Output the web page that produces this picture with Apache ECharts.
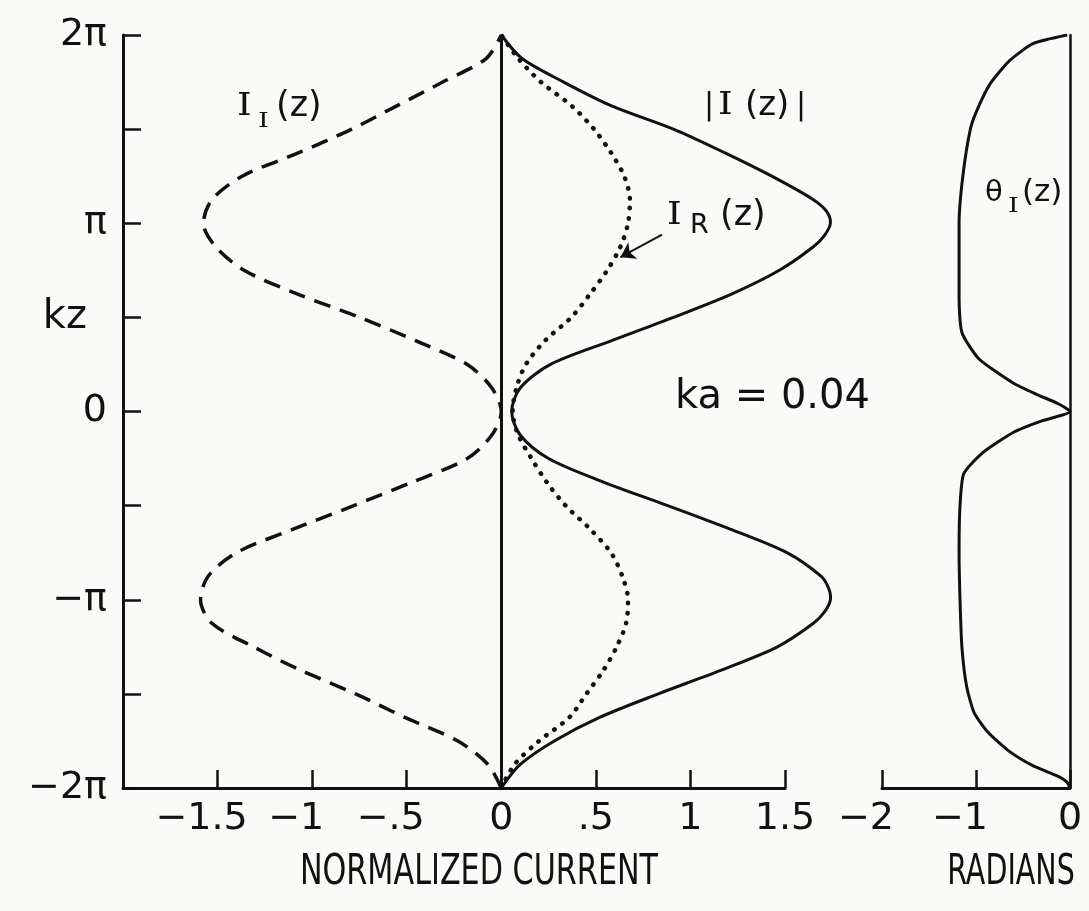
<!DOCTYPE html>
<html>
<head>
<meta charset="utf-8">
<title>Normalized current, ka = 0.04</title>
<script src="https://cdn.jsdelivr.net/npm/echarts@6/dist/echarts.min.js"></script>
<style>
  html, body { margin: 0; padding: 0; background: #fafaf8; }
  #chart { width: 1089px; height: 911px; }
</style>
</head>
<body>
<div id="chart"></div>
<script>
// kz, in units of pi
const kz = [-2, -1.875, -1.75, -1.625, -1.5, -1.375, -1.25, -1.125, -1, -0.875, -0.75, -0.625, -0.5, -0.375, -0.25, -0.125,
  0, 0.125, 0.25, 0.375, 0.5, 0.625, 0.75, 0.875, 1, 1.125, 1.25, 1.375, 1.5, 1.625, 1.75, 1.875, 2];

// I_I(z), dashed
const imagCurrent = [0, -0.07, -0.23, -0.51, -0.77, -1.06, -1.31, -1.53, -1.59, -1.55, -1.40, -1.10, -0.78, -0.47, -0.18, -0.05,
  0, -0.05, -0.18, -0.45, -0.75, -1.08, -1.36, -1.51, -1.575, -1.53, -1.37, -1.07, -0.79, -0.55, -0.31, -0.08, 0];

// |I(z)|, solid (read a little finer round the two peaks)
const magKz = [-2, -1.875, -1.75, -1.625, -1.5, -1.375, -1.25, -1.125, -1.0625, -1, -0.9375, -0.875, -0.75, -0.625, -0.5, -0.375, -0.25, -0.125,
  0, 0.125, 0.25, 0.375, 0.5, 0.625, 0.75, 0.875, 0.9375, 1, 1.0625, 1.125, 1.25, 1.375, 1.5, 1.625, 1.75, 1.875, 2];
const magCurrent = [0, 0.10, 0.28, 0.52, 0.83, 1.16, 1.46, 1.65, 1.71, 1.74, 1.73, 1.69, 1.51, 1.21, 0.88, 0.54, 0.25, 0.10,
  0.055, 0.10, 0.26, 0.58, 0.91, 1.22, 1.47, 1.65, 1.71, 1.74, 1.72, 1.65, 1.43, 1.18, 0.91, 0.58, 0.33, 0.11, 0];

// I_R(z), dotted
const realCurrent = [0, 0.07, 0.20, 0.36, 0.45, 0.54, 0.61, 0.66, 0.67, 0.64, 0.58, 0.47, 0.34, 0.24, 0.16, 0.09,
  0.06, 0.08, 0.13, 0.23, 0.37, 0.47, 0.56, 0.63, 0.67, 0.68, 0.65, 0.58, 0.49, 0.37, 0.21, 0.09, 0];

// theta_I(z) in radians (right panel)
const thetaKz = [-2, -1.97, -1.94, -1.88, -1.8, -1.7, -1.6, -1.46, -1.25, -1, -0.75, -0.5, -0.33, -0.22, -0.11, -0.05,
  0, 0.04, 0.09, 0.15, 0.28, 0.42, 0.6, 0.8, 1, 1.25, 1.5, 1.6, 1.74, 1.865, 1.955, 2];
const thetaRad = [0, -0.03, -0.12, -0.40, -0.66, -0.88, -1.02, -1.10, -1.15, -1.17, -1.18, -1.17, -1.13, -0.93, -0.60, -0.30,
  0, -0.12, -0.35, -0.60, -0.97, -1.15, -1.18, -1.18, -1.18, -1.14, -1.06, -0.99, -0.85, -0.64, -0.39, -0.03];

// tick labels
const kzTicks = [2, 1, 0.5, 0, -1, -2];
const kzTickLabels = ['2π', 'π', 'kz', '0', '−π', '−2π'];
const currentTicks = [-1.5, -1, -0.5, 0, 0.5, 1, 1.5];
const currentTickLabels = ['−1.5', '−1', '−.5', '0', '.5', '1', '1.5'];
const radianTicks = [-2, -1, 0];
const radianTickLabels = ['−2', '−1', '0'];

// arrow from the I_R(z) label to its curve [current, kz]
const arrowFrom = [0.85, 0.94];
const arrowTo = [0.63, 0.82];

const ink = '#111';
const sans = '"DejaVu Sans", "Liberation Sans", sans-serif';
const serif = '"DejaVu Serif", "Liberation Serif", serif';

function pairs(xs, ys) {
  return xs.map((x, i) => [x, ys[i]]);
}

// label lookup; negative numbers get right padding so the digits sit on the tick
function tickFormatter(ticks, labels) {
  return function (v) {
    const i = ticks.findIndex(t => Math.abs(t - v) < 1e-6);
    if (i < 0) return '';
    const s = labels[i];
    if (s.charAt(0) === '−') return '{neg|' + s + '}';
    return s;
  };
}

const axisLine = { onZero: false, lineStyle: { color: ink, width: 3 } };
const axisTick = { inside: true, length: 18, lineStyle: { color: ink, width: 2.5 } };
const labelStyle = { color: ink, fontSize: 38, fontFamily: sans };

const chart = echarts.init(document.getElementById('chart'));

function txt(text, x, y, size, family, extra) {
  return Object.assign({
    type: 'text', x: x, y: y, silent: true,
    style: { text: text, fontSize: size, fontFamily: family, fill: ink, textVerticalAlign: 'middle' }
  }, extra || {});
}

function centered(text, x, y, size, sx) {
  return {
    type: 'text', x: x, y: y, scaleX: sx, silent: true,
    style: { text: text, fontSize: size, fontFamily: sans, fill: ink, textAlign: 'center', textVerticalAlign: 'middle' }
  };
}

// |I(z)| runs past the end of the axis, so it is drawn as one unclipped polyline
function renderMagnitude(params, api) {
  if (params.dataIndex !== 0) return;
  const points = magCurrent.map((v, i) => api.coord([v, magKz[i]]));
  return {
    type: 'polyline',
    shape: { points: points, smooth: 0.3 },
    style: { stroke: ink, lineWidth: 3, fill: null }
  };
}

const option = {
  backgroundColor: '#fafaf8',
  animation: false,
  grid: [
    { left: 123, top: 35, width: 662, height: 753 },
    { left: 882, top: 35, width: 188, height: 753 }
  ],
  xAxis: [
    {
      gridIndex: 0, type: 'value', min: -2, max: 1.5, interval: 0.5,
      axisLine: axisLine, axisTick: axisTick, splitLine: { show: false },
      axisLabel: Object.assign({}, labelStyle, {
        margin: 12,
        formatter: tickFormatter(currentTicks, currentTickLabels),
        rich: { neg: Object.assign({}, labelStyle, { padding: [0, 32, 0, 0] }) }
      })
    },
    {
      gridIndex: 1, type: 'value', min: -2, max: 0, interval: 1,
      axisLine: axisLine, axisTick: axisTick, splitLine: { show: false },
      axisLabel: Object.assign({}, labelStyle, {
        margin: 12,
        formatter: tickFormatter(radianTicks, radianTickLabels),
        rich: { neg: Object.assign({}, labelStyle, { padding: [0, 32, 0, 0] }) }
      })
    }
  ],
  yAxis: [
    {
      gridIndex: 0, type: 'value', min: -2, max: 2, interval: 0.5,
      axisLine: axisLine, axisTick: axisTick, splitLine: { show: false },
      axisLabel: Object.assign({}, labelStyle, {
        margin: 16,
        formatter: function (v) {
          const i = kzTicks.findIndex(t => Math.abs(t - v) < 1e-6);
          if (i < 0) return '';
          return kzTickLabels[i] === 'kz' ? '{kz|kz}' : kzTickLabels[i];
        },
        rich: { kz: Object.assign({}, labelStyle, { fontSize: 40, padding: [0, 20, 0, 0] }) }
      })
    },
    {
      gridIndex: 1, type: 'value', min: -2, max: 2, position: 'right',
      axisLine: { show: true, onZero: false, lineStyle: { color: ink, width: 2.5 } },
      axisTick: { show: false }, axisLabel: { show: false }, splitLine: { show: false }
    }
  ],
  series: [
    {
      name: 'I_I(z)', type: 'line', xAxisIndex: 0, yAxisIndex: 0,
      data: pairs(imagCurrent, kz), smooth: 0.3, showSymbol: false, silent: true,
      lineStyle: { color: ink, width: 3.5, type: [17, 10] },
      markLine: {
        silent: true, symbol: ['none', 'none'], label: { show: false },
        lineStyle: { color: ink, width: 3, type: 'solid' },
        data: [{ xAxis: 0 }]
      }
    },
    {
      name: '|I(z)|', type: 'custom', xAxisIndex: 0, yAxisIndex: 0, clip: false, silent: true,
      data: pairs(magCurrent, magKz), encode: { x: 0, y: 1 },
      renderItem: renderMagnitude
    },
    {
      name: 'I_R(z)', type: 'line', xAxisIndex: 0, yAxisIndex: 0,
      data: pairs(realCurrent, kz), smooth: 0.3, showSymbol: false, silent: true,
      lineStyle: { color: ink, width: 4.5, type: [0.5, 9.5], cap: 'round' },
      markLine: {
        silent: true, symbol: ['none', 'arrow'], symbolSize: 14, label: { show: false },
        lineStyle: { color: ink, width: 2, type: 'solid' },
        data: [[{ coord: arrowFrom }, { coord: arrowTo }]]
      }
    },
    {
      name: 'θ_I(z)', type: 'line', xAxisIndex: 1, yAxisIndex: 1,
      data: pairs(thetaRad, thetaKz), smooth: 0.2, showSymbol: false, silent: true,
      lineStyle: { color: ink, width: 3 }
    }
  ],
  graphic: [
    // I_I(z)
    txt('I', 237, 107, 31, serif, { scaleX: 1.2 }),
    txt('I', 258, 122, 21, serif, { scaleX: 1.3 }),
    txt('(z)', 276, 107, 35, sans),
    // |I(z)|
    txt('|', 704, 106, 30, sans),
    txt('I', 718, 106, 31, serif, { scaleX: 1.2 }),
    txt('(z)', 745, 106, 34, sans),
    txt('|', 796, 106, 30, sans),
    // I_R(z)
    txt('I', 667, 216, 31, serif, { scaleX: 1.2 }),
    txt('R', 690, 226, 27, sans),
    txt('(z)', 720, 216, 35, sans),
    // theta_I(z)
    txt('θ', 985, 193, 29, sans),
    txt('I', 1008, 207, 21, serif, { scaleX: 1.3 }),
    txt('(z)', 1022, 193, 31, sans),
    // ka
    txt('ka = 0.04', 675, 398, 40, sans),
    // axis names
    centered('NORMALIZED CURRENT', 479, 873, 42, 0.72),
    centered('RADIANS', 1011, 873, 42, 0.68)
  ]
};

chart.setOption(option);
</script>
</body>
</html>
